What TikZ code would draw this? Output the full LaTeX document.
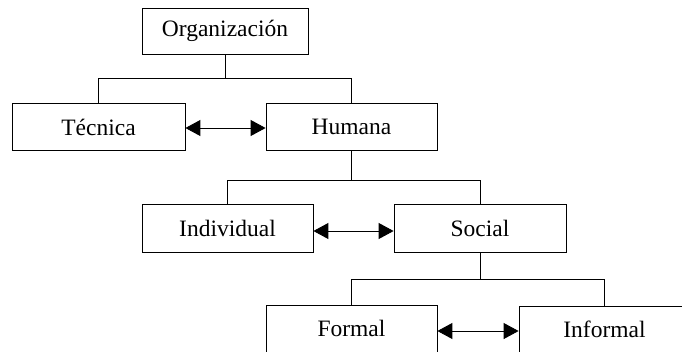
\documentclass[tikz,border=0pt]{standalone}
\usepackage{fontspec}
\setmainfont{Liberation Serif}
\usetikzlibrary{arrows.meta,calc}
\begin{document}
\begin{tikzpicture}[x=1pt,y=1pt,
  box/.style={draw,line width=0.8pt,inner sep=0pt,minimum height=47pt,
    font=\fontsize{23.5}{28}\selectfont},
  link/.style={line width=0.8pt},
  rel/.style={line width=0.9pt,{Triangle[length=15pt,width=16pt]}-{Triangle[length=15pt,width=16pt]}}]
\useasboundingbox (0,0) rectangle (682,-351);
\node[box,minimum width=166pt,minimum height=46pt] (org) at (225,-31) {Organización};
\node[box,minimum width=173pt] (tec) at (98.5,-127) {Técnica};
\node[box,minimum width=171pt] (hum) at (351.5,-127) {Humana};
\node[box,minimum width=171pt,minimum height=48pt] (ind) at (227.5,-228) {Individual};
\node[box,minimum width=172pt,minimum height=48pt] (soc) at (480,-228) {Social};
\node[box,minimum width=171pt] (for) at (351.5,-328.5) {Formal};
\node[box,minimum width=171pt] (inf) at (604.5,-329.5) {Informal};
% tree connectors
\draw[link] (org.south) -- ++(0,-24) coordinate (j1);
\draw[link] (tec.north) |- (j1) -| (hum.north);
\draw[link] (hum.south) -- ++(0,-29) coordinate (j2);
\draw[link] (ind.north) |- (j2) -| (soc.north);
\draw[link] (soc.south) -- ++(0,-27) coordinate (j3);
\draw[link] (for.north) |- (j3) -| (inf.north);
% relations
\draw[rel] ([yshift=-1pt]tec.east) -- ([yshift=-1pt]hum.west);
\draw[rel] ([yshift=-3pt]ind.east) -- ([yshift=-3pt]soc.west);
\draw[rel] ([yshift=-2.5pt]for.east) -- ([yshift=-1.5pt]inf.west);
\end{tikzpicture}
\end{document}
